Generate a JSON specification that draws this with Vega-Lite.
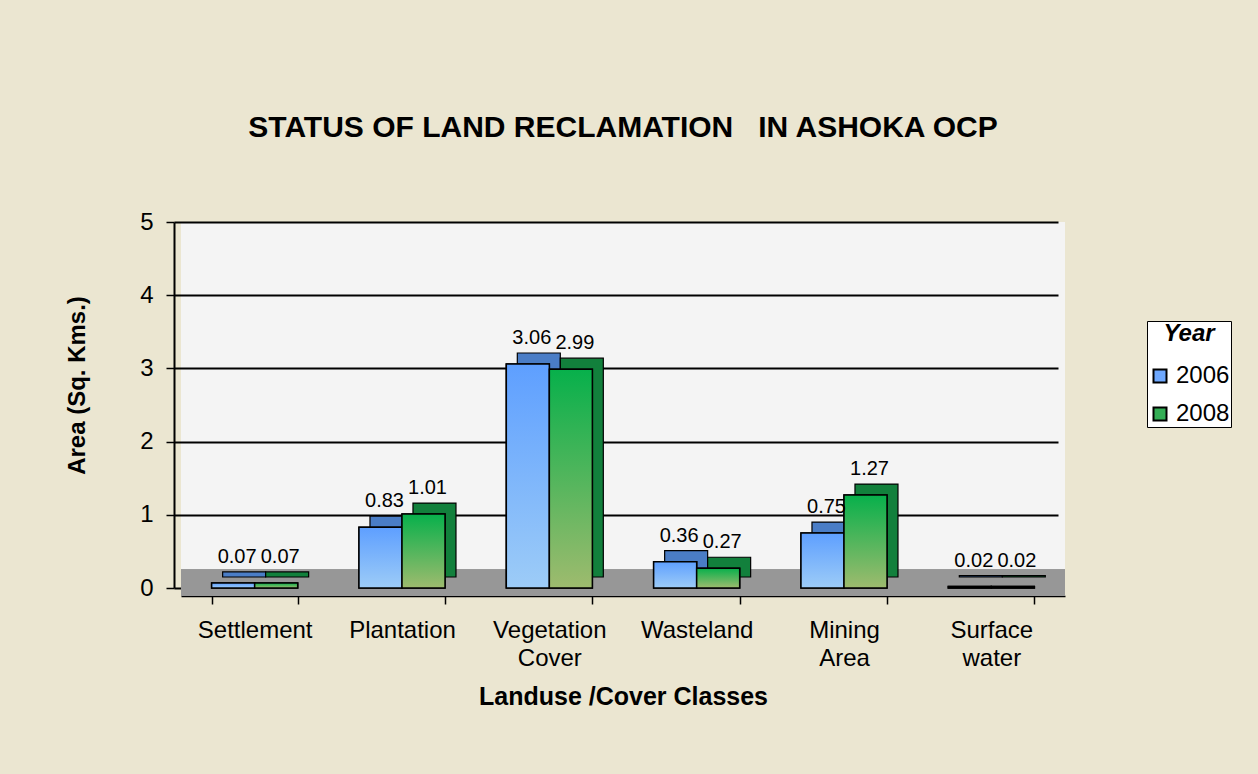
{
  "$schema": "https://vega.github.io/schema/vega-lite/v6.json",
  "width": 884,
  "height": 366,
  "autosize": {"type": "none"},
  "padding": {"left": 181, "top": 222, "right": 193, "bottom": 186},
  "background": "#EBE6D1",
  "title": {"text": "STATUS OF LAND RECLAMATION \u00a0 IN ASHOKA OCP", "fontSize": 30, "font": "Liberation Sans", "fontWeight": "bold", "color": "black", "anchor": "middle", "offset": 67},
  "data": {"values": [
    {"Category": "Settlement", "Year": "2006", "Area": 0.07},
    {"Category": "Settlement", "Year": "2008", "Area": 0.07},
    {"Category": "Plantation", "Year": "2006", "Area": 0.83},
    {"Category": "Plantation", "Year": "2008", "Area": 1.01},
    {"Category": "Vegetation Cover", "Year": "2006", "Area": 3.06},
    {"Category": "Vegetation Cover", "Year": "2008", "Area": 2.99},
    {"Category": "Wasteland", "Year": "2006", "Area": 0.36},
    {"Category": "Wasteland", "Year": "2008", "Area": 0.27},
    {"Category": "Mining Area", "Year": "2006", "Area": 0.75},
    {"Category": "Mining Area", "Year": "2008", "Area": 1.27},
    {"Category": "Surface water", "Year": "2006", "Area": 0.02},
    {"Category": "Surface water", "Year": "2008", "Area": 0.02}
  ]},
  "config": {
    "font": "Liberation Sans",
    "view": {"fill": "#F4F4F4", "stroke": null},
    "axis": {"labelColor": "black", "titleColor": "black", "domainColor": "black", "tickColor": "black", "labelFont": "Liberation Sans", "titleFont": "Liberation Sans"},
    "axisX": {"offset": 8, "domainWidth": 1.5, "tickSize": 8, "tickWidth": 1.5, "tickBand": "extent", "labelAngle": 0, "labelFontSize": 24, "labelLineHeight": 28, "labelPadding": 14, "titleFontSize": 25, "titleFontWeight": "bold", "titlePadding": 14, "grid": false},
    "axisY": {"offset": 7, "domainWidth": 2, "tickSize": 8, "tickWidth": 1.5, "labelFontSize": 24, "labelPadding": 13, "titleFontSize": 24, "titleFontWeight": "bold", "titlePadding": 50, "titleY": 163, "grid": true, "gridColor": "black", "gridWidth": 2}
  },
  "resolve": {"scale": {"xOffset": "independent"}},
  "layer": [
    {
      "mark": {"type": "rect", "color": "#979797"},
      "encoding": {
        "y": {"datum": -0.11, "type": "quantitative", "scale": {"domain": [0, 5], "nice": false}, "title": "Area (Sq. Kms.)", "axis": {"values": [0, 1, 2, 3, 4, 5]}},
        "y2": {"datum": 0.25}
      }
    },
    {
      "mark": {"type": "bar", "stroke": "black", "strokeWidth": 1.2, "yOffset": -11, "y2Offset": -11},
      "encoding": {
        "x": {"field": "Category", "type": "nominal", "sort": null, "title": "Landuse /Cover Classes", "scale": {"paddingInner": 0.416, "paddingOuter": 0.208}, "axis": {"labelExpr": "split(datum.label, ' ')"}},
        "xOffset": {"field": "Year", "type": "nominal", "scale": {"domain": ["2006", "2008"], "range": [11, 97]}},
        "y": {"field": "Area", "type": "quantitative", "scale": {"domain": [0, 5], "nice": false}, "title": "Area (Sq. Kms.)", "axis": {"values": [0, 1, 2, 3, 4, 5]}},
        "color": {"condition": {"test": "datum.Year == '2006'", "value": "#4A7DC6"}, "value": "#12803C"}
      }
    },
    {
      "mark": {"type": "bar", "stroke": "black", "strokeWidth": 1.5},
      "encoding": {
        "x": {"field": "Category", "type": "nominal", "sort": null, "title": "Landuse /Cover Classes", "axis": {"labelExpr": "split(datum.label, ' ')"}},
        "xOffset": {"field": "Year", "type": "nominal", "scale": {"domain": ["2006", "2008"]}},
        "y": {"field": "Area", "type": "quantitative", "scale": {"domain": [0, 5], "nice": false}, "title": "Area (Sq. Kms.)", "axis": {"values": [0, 1, 2, 3, 4, 5]}},
        "color": {"field": "Year", "type": "nominal", "scale": {"domain": ["2006", "2008"], "range": ["#6FA9FF", "#33AE55"]},
          "legend": {"title": "Year", "orient": "none", "legendX": 966, "legendY": 99, "titleFontSize": 24, "titleFontStyle": "italic", "titleFontWeight": "bold", "titleColor": "black", "titleAnchor": "middle", "titlePadding": 18, "labelFontSize": 24, "labelColor": "black", "labelOffset": 4, "symbolType": "square", "symbolSize": 169, "symbolStrokeColor": "black", "symbolStrokeWidth": 2, "fillColor": "white", "strokeColor": "black", "padding": 1, "rowPadding": 14}}
      }
    },
    {
      "transform": [{"filter": "datum.Year == '2006'"}],
      "mark": {"type": "bar", "stroke": "black", "strokeWidth": 1.5, "fill": {"gradient": "linear", "x1": 0, "y1": 0, "x2": 0, "y2": 1, "stops": [{"offset": 0, "color": "#5E9FFF"}, {"offset": 1, "color": "#9DCCF7"}]}},
      "encoding": {
        "x": {"field": "Category", "type": "nominal", "sort": null, "title": "Landuse /Cover Classes", "axis": {"labelExpr": "split(datum.label, ' ')"}},
        "xOffset": {"field": "Year", "type": "nominal", "scale": {"domain": ["2006", "2008"]}},
        "y": {"field": "Area", "type": "quantitative", "scale": {"domain": [0, 5], "nice": false}, "title": "Area (Sq. Kms.)", "axis": {"values": [0, 1, 2, 3, 4, 5]}}
      }
    },
    {
      "transform": [{"filter": "datum.Year == '2008'"}],
      "mark": {"type": "bar", "stroke": "black", "strokeWidth": 1.5, "fill": {"gradient": "linear", "x1": 0, "y1": 0, "x2": 0, "y2": 1, "stops": [{"offset": 0, "color": "#07B04B"}, {"offset": 1, "color": "#9EBB6E"}]}},
      "encoding": {
        "x": {"field": "Category", "type": "nominal", "sort": null, "title": "Landuse /Cover Classes", "axis": {"labelExpr": "split(datum.label, ' ')"}},
        "xOffset": {"field": "Year", "type": "nominal", "scale": {"domain": ["2006", "2008"]}},
        "y": {"field": "Area", "type": "quantitative", "scale": {"domain": [0, 5], "nice": false}, "title": "Area (Sq. Kms.)", "axis": {"values": [0, 1, 2, 3, 4, 5]}}
      }
    },
    {
      "mark": {"type": "text", "baseline": "bottom", "dy": -16, "dx": 4, "fontSize": 20, "font": "Liberation Sans", "color": "black"},
      "encoding": {
        "x": {"field": "Category", "type": "nominal", "sort": null, "title": "Landuse /Cover Classes", "axis": {"labelExpr": "split(datum.label, ' ')"}},
        "xOffset": {"field": "Year", "type": "nominal", "scale": {"domain": ["2006", "2008"]}},
        "y": {"field": "Area", "type": "quantitative", "scale": {"domain": [0, 5], "nice": false}, "title": "Area (Sq. Kms.)", "axis": {"values": [0, 1, 2, 3, 4, 5]}},
        "text": {"field": "Area", "type": "quantitative", "format": ".2f"}
      }
    }
  ]
}
